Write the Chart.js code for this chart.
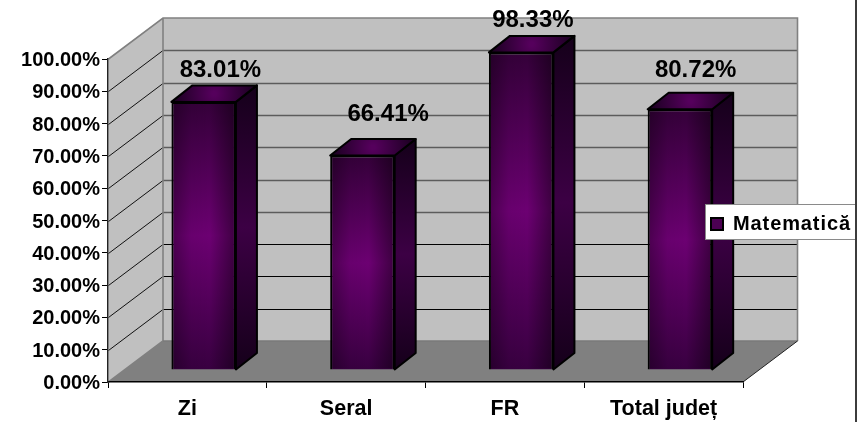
<!DOCTYPE html>
<html>
<head>
<meta charset="utf-8">
<title>Matematică</title>
<script src="https://cdn.jsdelivr.net/npm/chart.js@4"></script>
<style>
html,body{margin:0;padding:0;background:#fff;}
#wrap{position:relative;width:867px;height:422px;overflow:hidden;}
canvas{position:absolute;left:0;top:0;display:block;}
#rule{position:absolute;left:855px;top:0;width:2px;height:422px;background:#3c3c3c;}
</style>
</head>
<body>
<div id="wrap"><canvas id="c" width="855" height="422"></canvas><div id="rule"></div></div>
<script>
const categories = ['Zi', 'Seral', 'FR', 'Total județ'];
const seriesName = 'Matematică';
const values = [83.01, 66.41, 98.33, 80.72];

const FONT = '"Liberation Sans", Arial, sans-serif';
const wallDepth = {x: 54.5, y: -41};
const barShift = {x: 16.3, y: -12};
const barDepth = {x: 21, y: -16.5};
const labelShiftX = [33, 42, 28, 32];
const labelShiftY = [-44, -53.5, -44.4, -51];
const legendRect = {left: 705, top: 204, right: 855, bottom: 240};

function poly(ctx, pts) {
  ctx.beginPath();
  pts.forEach((p, i) => i ? ctx.lineTo(p[0], p[1]) : ctx.moveTo(p[0], p[1]));
  ctx.closePath();
}

const scene3d = {
  id: 'scene3d',
  afterLayout(chart) {
    const l = chart.legend;
    l.left = legendRect.left - 1; l.right = legendRect.right;
    l.top = legendRect.top; l.bottom = legendRect.bottom + 4;
    l.width = l.right - l.left; l.height = l.bottom - l.top;
  },
  beforeDraw(chart) {
    const {ctx, chartArea: a, scales} = chart;
    const dx = wallDepth.x, dy = wallDepth.y;
    const L = a.left + 0.5, R = a.right, T = a.top, B = a.bottom;
    ctx.save();
    poly(ctx, [[L, T], [L + dx, T + dy], [L + dx, B + dy], [L, B]]);
    ctx.fillStyle = '#c0c0c0'; ctx.fill();
    ctx.fillRect(L + dx, T + dy, R - L, B - T);
    poly(ctx, [[L, B], [R, B], [R + dx, B + dy], [L + dx, B + dy]]);
    ctx.fillStyle = '#808080'; ctx.fill();
    scales.y.ticks.forEach(t => {
      const y = Math.round(scales.y.getPixelForValue(t.value)) + 0.5;
      const by = y + dy;
      if (t.value > 0 && t.value < 100) {
        ctx.beginPath(); ctx.moveTo(L + dx, by); ctx.lineTo(R + dx, by);
        if (t.value >= 40) { ctx.strokeStyle = '#5c5c5c'; ctx.lineWidth = 1.6; }
        else { ctx.strokeStyle = '#000'; ctx.lineWidth = 1; }
        ctx.stroke();
        ctx.beginPath(); ctx.moveTo(L, y); ctx.lineTo(L + dx, by);
        ctx.strokeStyle = '#111'; ctx.lineWidth = 1; ctx.stroke();
      }
    });
    ctx.strokeStyle = '#808080'; ctx.lineWidth = 1.6;
    ctx.beginPath();
    ctx.moveTo(L, T); ctx.lineTo(L + dx, T + dy); ctx.lineTo(R + dx, T + dy); ctx.lineTo(R + dx, B + dy);
    ctx.moveTo(L + dx, T + dy); ctx.lineTo(L + dx, B + dy);
    ctx.moveTo(L + dx, B + dy); ctx.lineTo(L, B);
    ctx.stroke();
    ctx.strokeStyle = '#7a7a7a';
    ctx.beginPath(); ctx.moveTo(L + dx, B + dy); ctx.lineTo(R + dx, B + dy); ctx.stroke();
    ctx.strokeStyle = '#222'; ctx.lineWidth = 1;
    ctx.beginPath(); ctx.moveTo(R, B); ctx.lineTo(R + dx, B + dy); ctx.stroke();
    ctx.restore();
  },
  beforeDatasetDraw(chart) {
    const ctx = chart.ctx;
    ctx.save();
    ctx.translate(barShift.x, barShift.y);
    chart.getDatasetMeta(0).data.forEach(el => {
      const hw = el.width / 2, xl = el.x - hw, xr = el.x + hw, yt = el.y, yb = el.base;
      const ox = barDepth.x, oy = barDepth.y;
      const gs = ctx.createLinearGradient(0, yt + oy, 0, yb);
      gs.addColorStop(0, '#15001a'); gs.addColorStop(0.5, '#3c0044'); gs.addColorStop(1, '#15001a');
      poly(ctx, [[xr, yt], [xr + ox, yt + oy], [xr + ox, yb + oy], [xr, yb]]);
      ctx.fillStyle = gs; ctx.fill();
      ctx.strokeStyle = '#000'; ctx.lineWidth = 2; ctx.lineJoin = 'round'; ctx.stroke();
      const cx = (xl + xr + ox) / 2, cy = yt + oy / 2;
      const gt = ctx.createRadialGradient(cx, cy, 2, cx, cy, el.width * 0.62);
      gt.addColorStop(0, '#55005c'); gt.addColorStop(1, '#1c0022');
      poly(ctx, [[xl, yt], [xl + ox, yt + oy], [xr + ox, yt + oy], [xr, yt]]);
      ctx.fillStyle = gt; ctx.fill();
      ctx.stroke();
    });
  },
  afterDatasetDraw(chart) {
    const ctx = chart.ctx;
    chart.getDatasetMeta(0).data.forEach(el => {
      const hw = el.width / 2 - 1, xl = el.x - hw, yt = el.y + 1, h = el.base - el.y - 2;
      const g = ctx.createLinearGradient(xl, 0, xl + 2 * hw, 0);
      g.addColorStop(0, 'rgba(0,0,0,0.3)');
      g.addColorStop(0.3, 'rgba(0,0,0,0.04)');
      g.addColorStop(0.6, 'rgba(0,0,0,0)');
      g.addColorStop(1, 'rgba(0,0,0,0.42)');
      ctx.fillStyle = g;
      ctx.fillRect(xl, yt, 2 * hw, h);
    });
    ctx.restore();
  },
  afterDraw(chart) {
    const ctx = chart.ctx;
    ctx.save();
    ctx.font = 'bold 24px ' + FONT;
    ctx.fillStyle = '#000'; ctx.textAlign = 'center'; ctx.textBaseline = 'middle';
    chart.getDatasetMeta(0).data.forEach((el, i) => {
      ctx.fillText(values[i].toFixed(2) + '%', el.x + labelShiftX[i], el.y + labelShiftY[i]);
    });
    const r = legendRect;
    ctx.fillStyle = '#fff';
    ctx.fillRect(r.left, r.top, r.right - r.left, r.bottom - r.top);
    ctx.strokeStyle = '#8a8a8a'; ctx.lineWidth = 1;
    ctx.strokeRect(r.left + 0.5, r.top + 0.5, r.right - r.left, r.bottom - r.top - 1);
    ctx.letterSpacing = '0.9px';
    chart.legend.draw();
    ctx.restore();
  }
};

new Chart(document.getElementById('c'), {
  type: 'bar',
  plugins: [scene3d],
  data: {
    labels: categories,
    datasets: [{
      label: seriesName,
      data: values,
      clip: false,
      barPercentage: 0.4064,
      categoryPercentage: 1,
      borderColor: '#000',
      borderWidth: 2,
      backgroundColor(ctx) {
        const y = ctx.chart.scales.y;
        if (ctx.raw === undefined || !y) return '#5a0060';
        const g = ctx.chart.ctx.createLinearGradient(0, y.getPixelForValue(ctx.raw), 0, y.getPixelForValue(0));
        g.addColorStop(0, '#340039');
        g.addColorStop(0.5, '#6c0072');
        g.addColorStop(1, '#380040');
        return g;
      }
    }]
  },
  options: {
    responsive: false,
    animation: false,
    events: [],
    layout: {padding: {left: 0, top: 59, right: 112, bottom: 0}},
    plugins: {
      title: {display: false},
      tooltip: {enabled: false},
      legend: {
        display: true,
        position: 'chartArea',
        align: 'center',
        labels: {
          boxWidth: 12, boxHeight: 12, padding: 7,
          color: '#000',
          font: {family: FONT, size: 20, weight: 'bold'},
          generateLabels() {
            return [{text: seriesName, fillStyle: '#4c0052', strokeStyle: '#000', fontColor: '#000', lineWidth: 2, hidden: false, datasetIndex: 0}];
          }
        }
      }
    },
    scales: {
      x: {
        offset: true,
        grid: {display: true, drawOnChartArea: false, drawTicks: true, tickLength: 6, color: '#000', offset: true},
        border: {display: true, color: '#000', width: 1.5},
        ticks: {color: '#000', padding: 8, maxRotation: 0, autoSkip: false, font: {family: FONT, size: 21.5, weight: 'bold'}},
        afterFit(s) { s.height = 40; }
      },
      y: {
        min: 0, max: 100,
        grid: {display: true, drawOnChartArea: false, drawTicks: true, tickLength: 6, color: '#000'},
        border: {display: true, color: '#222', width: 1.5},
        ticks: {
          stepSize: 10, color: '#000', padding: 2, labelOffset: 1.5,
          font: {family: FONT, size: 20, weight: 'bold'},
          callback: v => v.toFixed(2) + '%'
        },
        afterFit(s) { s.width = 108; }
      }
    }
  }
});
</script>
</body>
</html>
